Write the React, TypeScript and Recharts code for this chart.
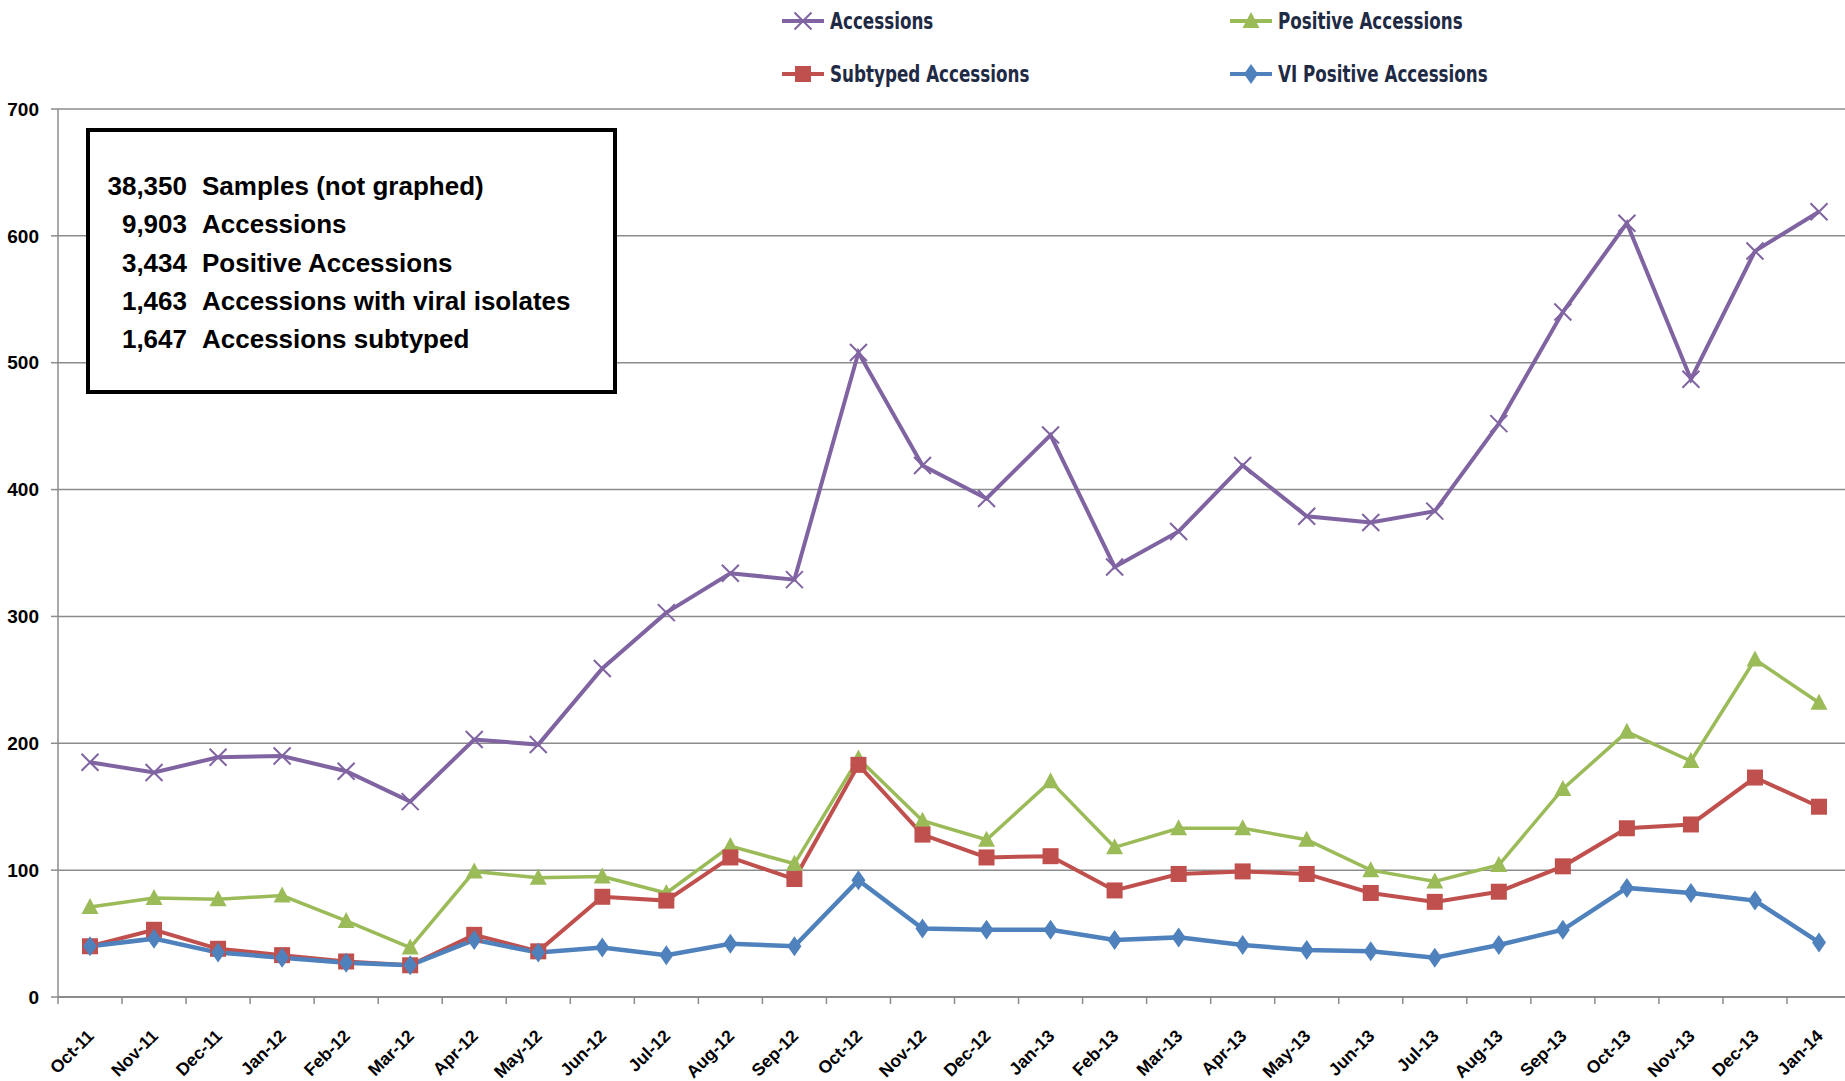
import { LineChart, Line, XAxis, YAxis, CartesianGrid } from "recharts";

// month categories on the x axis
const months = [
  "Oct-11", "Nov-11", "Dec-11", "Jan-12", "Feb-12", "Mar-12", "Apr-12", "May-12",
  "Jun-12", "Jul-12", "Aug-12", "Sep-12", "Oct-12", "Nov-12", "Dec-12", "Jan-13",
  "Feb-13", "Mar-13", "Apr-13", "May-13", "Jun-13", "Jul-13", "Aug-13", "Sep-13",
  "Oct-13", "Nov-13", "Dec-13", "Jan-14",
];

const accessions = [185, 177, 189, 190, 178, 154, 203, 199, 259, 303, 334, 329, 508, 419, 393, 443, 339, 367, 419, 379, 374, 383, 452, 540, 610, 487, 588, 619];
const positiveAccessions = [71, 78, 77, 80, 60, 39, 99, 94, 95, 82, 119, 105, 188, 139, 124, 170, 118, 133, 133, 124, 100, 91, 104, 164, 209, 186, 266, 232];
const subtypedAccessions = [40, 53, 38, 33, 28, 25, 49, 36, 79, 76, 110, 93, 183, 128, 110, 111, 84, 97, 99, 97, 82, 75, 83, 103, 133, 136, 173, 150];
const viPositiveAccessions = [40, 46, 35, 31, 27, 25, 45, 35, 39, 33, 42, 40, 92, 54, 53, 53, 45, 47, 41, 37, 36, 31, 41, 53, 86, 82, 76, 43];

const yTicks = [0, 100, 200, 300, 400, 500, 600, 700];

// summary box text
const summaryCounts = ["38,350", "9,903", "3,434", "1,463", "1,647"];
const summaryLabels = [
  "Samples (not graphed)",
  "Accessions",
  "Positive Accessions",
  "Accessions with viral isolates",
  "Accessions subtyped",
];

const PURPLE = "#8064A2";
const GREEN = "#9BBB59";
const RED = "#C0504D";
const BLUE = "#4F81BD";
const GRID = "#8c8c8c";
const HALF_BAND = 32;

const chartData = months.map((m, i) => ({
  month: m,
  acc: accessions[i],
  pos: positiveAccessions[i],
  sub: subtypedAccessions[i],
  vi: viPositiveAccessions[i],
}));

// marker shapes, Excel style
function CrossMark({ cx, cy }: any) {
  return (
    <path
      d={`M${cx - 8.5},${cy - 8.5}L${cx + 8.5},${cy + 8.5}M${cx - 8.5},${cy + 8.5}L${cx + 8.5},${cy - 8.5}`}
      stroke={PURPLE}
      strokeWidth={2}
      fill="none"
    />
  );
}

function TriangleMark({ cx, cy }: any) {
  return <path d={`M${cx},${cy - 9}L${cx + 8.5},${cy + 7}L${cx - 8.5},${cy + 7}Z`} fill={GREEN} />;
}

function SquareMark({ cx, cy }: any) {
  return <rect x={cx - 8} y={cy - 8} width={16} height={16} fill={RED} />;
}

function DiamondMark({ cx, cy }: any) {
  return <path d={`M${cx},${cy - 10}L${cx + 7},${cy}L${cx},${cy + 10}L${cx - 7},${cy}Z`} fill={BLUE} />;
}

const XTick = ({ x, y, payload }: any) => (
  <g>
    <line x1={x - HALF_BAND} x2={x - HALF_BAND} y1={y} y2={y + 7} stroke={GRID} strokeWidth={1.5} />
    <text
      transform={`translate(${x + 5},${y + 40}) rotate(-45)`}
      textAnchor="end"
      fontSize={17.5}
      fontWeight="bold"
      fontFamily="'Liberation Sans', Arial, sans-serif"
      fill="#000"
    >
      {payload.value}
    </text>
  </g>
);

const legendItems = [
  { name: "Accessions", color: PURPLE, Mark: CrossMark, left: 782, top: 21 },
  { name: "Positive Accessions", color: GREEN, Mark: TriangleMark, left: 1230, top: 21 },
  { name: "Subtyped Accessions", color: RED, Mark: SquareMark, left: 782, top: 74 },
  { name: "VI Positive Accessions", color: BLUE, Mark: DiamondMark, left: 1230, top: 74 },
];

export default function App() {
  return (
    <div
      style={{
        position: "absolute",
        left: 0,
        top: 0,
        width: 1845,
        height: 1081,
        overflow: "hidden",
        background: "#fff",
      }}
    >
      <LineChart width={1851} height={1081} data={chartData} margin={{ top: 109, right: 0, left: 0, bottom: 0 }}>
        <CartesianGrid vertical={false} stroke={GRID} strokeWidth={1.5} />
        <XAxis
          dataKey="month"
          interval={0}
          padding={{ left: HALF_BAND, right: HALF_BAND }}
          height={84}
          tickLine={false}
          tickSize={0}
          tickMargin={0}
          axisLine={{ stroke: GRID, strokeWidth: 2 }}
          tick={<XTick />}
        />
        <YAxis
          domain={[0, 700]}
          ticks={yTicks}
          width={58}
          tickSize={7}
          tickMargin={12}
          axisLine={{ stroke: GRID, strokeWidth: 1.5 }}
          tickLine={{ stroke: GRID, strokeWidth: 1.5 }}
          tick={{ fill: "#000", fontSize: 19, fontWeight: "bold", fontFamily: "'Liberation Sans', Arial, sans-serif" }}
        />
        <Line dataKey="acc" stroke={PURPLE} strokeWidth={4} isAnimationActive={false} activeDot={false}
          dot={(p: any) => <CrossMark key={p.index} {...p} />} />
        <Line dataKey="pos" stroke={GREEN} strokeWidth={3.5} isAnimationActive={false} activeDot={false}
          dot={(p: any) => <TriangleMark key={p.index} {...p} />} />
        <Line dataKey="sub" stroke={RED} strokeWidth={4} isAnimationActive={false} activeDot={false}
          dot={(p: any) => <SquareMark key={p.index} {...p} />} />
        <Line dataKey="vi" stroke={BLUE} strokeWidth={4.5} isAnimationActive={false} activeDot={false}
          dot={(p: any) => <DiamondMark key={p.index} {...p} />} />
      </LineChart>

      {/* legend */}
      {legendItems.map(({ name, color, Mark, left, top }) => (
        <div key={name} style={{ position: "absolute", left, top: top - 15, height: 30, display: "flex", alignItems: "center" }}>
          <svg width={44} height={30}>
            <line x1={0} x2={42} y1={15} y2={15} stroke={color} strokeWidth={4} />
            <Mark cx={21} cy={15} />
          </svg>
          <span
            style={{
              display: "inline-block",
              marginLeft: 4,
              fontFamily: "'Liberation Sans Narrow', 'DejaVu Sans Condensed', sans-serif",
              fontWeight: "bold",
              fontSize: 23,
              color: "#1F2A44",
              whiteSpace: "nowrap",
              transform: "scaleX(0.81)",
              transformOrigin: "left center",
            }}
          >
            {name}
          </span>
        </div>
      ))}

      {/* summary box */}
      <div
        style={{
          position: "absolute",
          left: 86,
          top: 128,
          width: 531,
          height: 266,
          boxSizing: "border-box",
          border: "4px solid #000",
          background: "#fff",
          fontFamily: "'Liberation Sans', Arial, sans-serif",
          fontWeight: "bold",
          fontSize: 26,
          color: "#000",
        }}
      >
        {summaryCounts.map((c, i) => (
          <div key={i} style={{ position: "absolute", top: 35 + i * 38.3, left: 0, height: 38, lineHeight: "38px", whiteSpace: "nowrap" }}>
            <span style={{ display: "inline-block", width: 97, textAlign: "right" }}>{c}</span>
            <span style={{ marginLeft: 15 }}>{summaryLabels[i]}</span>
          </div>
        ))}
      </div>
    </div>
  );
}
